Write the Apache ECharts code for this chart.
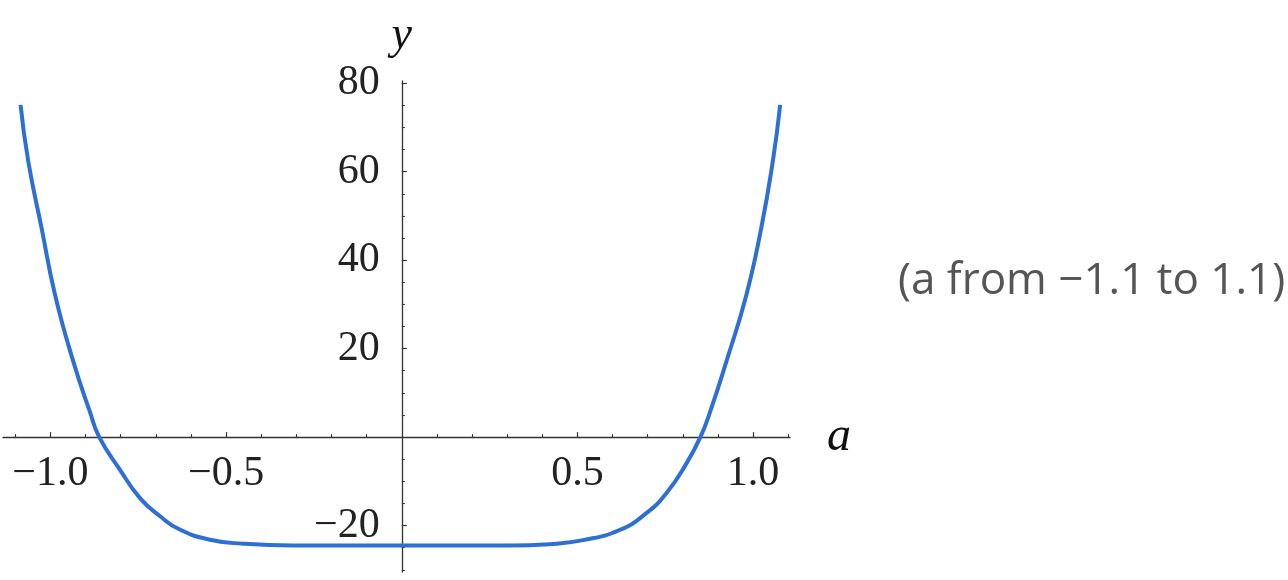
<!DOCTYPE html>
<html>
<head>
<meta charset="utf-8">
<script src="https://cdn.jsdelivr.net/npm/echarts@6/dist/echarts.min.js"></script>
<style>
html,body{margin:0;padding:0;background:#fff;}
#chart{width:1288px;height:580px;}
</style>
</head>
<body>
<div id="chart"></div>
<script>
// Curve samples
const aValues = [-1.085, -1.063, -1.025, -0.987, -0.935, -0.888, -0.861, -0.802, -0.745, -0.688, -0.632, -0.546, -0.451, -0.309, -0.15, 0, 0.15, 0.307, 0.421, 0.516, 0.620, 0.696, 0.753, 0.810, 0.850, 0.878, 0.924, 0.981, 1.023, 1.056, 1.077];
const yValues = [75.1, 62.3, 47.2, 32.2, 17.1, 5.8, 0, -7.4, -13.8, -17.9, -20.9, -23.2, -24.1, -24.5, -24.5, -24.5, -24.5, -24.5, -24.2, -23.3, -21.0, -17.2, -12.7, -6.0, 0, 5.8, 17.1, 32.2, 47.2, 62.3, 75.1];

// Tick labels / positions
const xMajorTicks = [-1.0, -0.5, 0.5, 1.0];
const xMinorTicks = [-1.1, -0.9, -0.8, -0.7, -0.6, -0.4, -0.3, -0.2, -0.1, 0.1, 0.2, 0.3, 0.4, 0.6, 0.7, 0.8, 0.9, 1.1];
const yMajorTicks = [-20, 20, 40, 60, 80];
const yMinorTicks = [-30, -25, -15, -10, -5, 5, 10, 15, 25, 30, 35, 45, 50, 55, 65, 70, 75];
const noteText = '(a from \u22121.1 to 1.1)';

const xMin = -1.135, xMax = 1.105, yMin = -30.5, yMax = 80.5;

const W = 1288, H = 580;
const grid = {left: 3, right: 498, top: 81, bottom: 8};
const gridW = W - grid.left - grid.right;
const gridH = H - grid.top - grid.bottom;
// Move the axes inward so they cross at the origin (a = 0, y = 0)
const xAxisOffset = -gridH * (0 - yMin) / (yMax - yMin);
const yAxisOffset = -gridW * (0 - xMin) / (xMax - xMin);

const seriesData = aValues.map((a, i) => [a, yValues[i]]);
const minus = v => String(v).replace('-', '\u2212');

const axisColor = '#333';
const labelFont = {fontFamily: '"Liberation Serif", serif', fontSize: 42, color: '#222'};

const chart = echarts.init(document.getElementById('chart'), null, {renderer: 'canvas'});
chart.setOption({
  animation: false,
  backgroundColor: '#fff',
  grid: Object.assign({outerBoundsMode: 'none'}, grid),
  xAxis: [{
    type: 'value', min: xMin, max: xMax, position: 'bottom', offset: xAxisOffset,
    name: 'a', nameLocation: 'end', nameGap: 37,
    nameTextStyle: {fontFamily: '"Liberation Serif", serif', fontStyle: 'italic', fontSize: 48, color: '#111', verticalAlign: 'middle'},
    axisLine: {onZero: false, lineStyle: {color: axisColor, width: 1.3}},
    axisTick: {inside: true, length: 5, customValues: xMajorTicks, lineStyle: {color: axisColor, width: 1.2}},
    axisLabel: {show: true, customValues: xMajorTicks, margin: 16, formatter: v => minus(v.toFixed(1)), ...labelFont},
    splitLine: {show: false}
  }, {
    type: 'value', min: xMin, max: xMax, position: 'bottom', offset: xAxisOffset,
    axisLine: {show: false, onZero: false},
    axisTick: {inside: true, length: 3, customValues: xMinorTicks, lineStyle: {color: axisColor, width: 1.1}},
    axisLabel: {show: false},
    splitLine: {show: false}
  }],
  yAxis: [{
    type: 'value', min: yMin, max: yMax, position: 'left', offset: yAxisOffset,
    name: 'y', nameLocation: 'end', nameGap: 22,
    nameTextStyle: {fontFamily: '"Liberation Serif", serif', fontStyle: 'italic', fontSize: 46, color: '#111', align: 'center'},
    axisLine: {onZero: false, lineStyle: {color: axisColor, width: 1.3}},
    axisTick: {inside: true, length: 5, customValues: yMajorTicks, lineStyle: {color: axisColor, width: 1.2}},
    axisLabel: {show: true, customValues: yMajorTicks, margin: 22, formatter: v => minus(v), ...labelFont},
    splitLine: {show: false}
  }, {
    type: 'value', min: yMin, max: yMax, position: 'left', offset: yAxisOffset,
    axisLine: {show: false, onZero: false},
    axisTick: {inside: true, length: 3, customValues: yMinorTicks, lineStyle: {color: axisColor, width: 1.1}},
    axisLabel: {show: false},
    splitLine: {show: false}
  }],
  series: [{
    type: 'line',
    data: seriesData,
    xAxisIndex: 0, yAxisIndex: 0,
    showSymbol: false,
    smooth: 0.5,
    lineStyle: {color: '#2e6fd6', width: 4},
    clip: false
  }],
  graphic: [{
    type: 'text', left: 898, top: 259,
    style: {text: noteText, font: '44px "Open Sans", sans-serif', fill: '#555'}
  }]
});
</script>
</body>
</html>
